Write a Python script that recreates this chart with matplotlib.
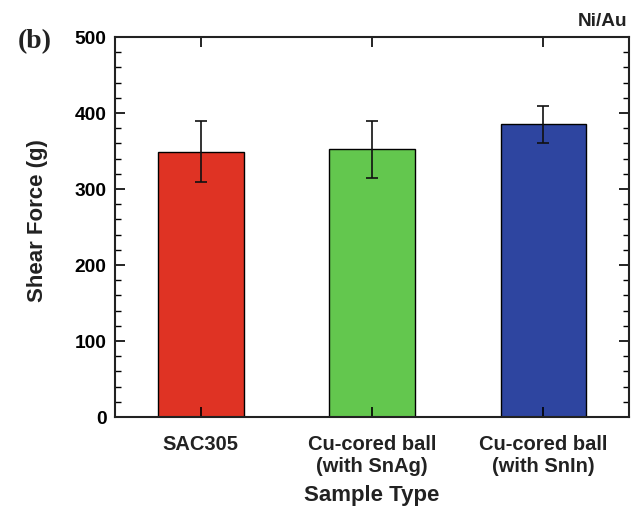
#! /usr/bin/env python3
"""Shear force per sample type, Ni/Au finish"""

import numpy as np
from matplotlib import pyplot as plt
from matplotlib.ticker import MultipleLocator

samples = ['SAC305', 'Cu-cored ball\n(with SnAg)', 'Cu-cored ball\n(with SnIn)']
force = [349, 352, 385]
force_err = [40, 38, 24]
colors = ['#df3324', '#63c74e', '#2e45a0']

plt.rcParams['font.family'] = ['Liberation Sans', 'DejaVu Sans']
plt.rcParams['font.weight'] = 'bold'

fig = plt.figure(figsize=(6.38, 5.10), dpi=100)
ax = fig.add_axes([0.1803, 0.1804, 0.8056, 0.7451])

x = np.arange(len(samples))
ax.bar(x, force, width=0.5, color=colors, edgecolor='black', linewidth=1.0,
       yerr=force_err, capsize=4,
       error_kw={'elinewidth': 1.2, 'capthick': 1.2, 'ecolor': '#111111'})

ax.set_xlim(-0.5, 2.5)
ax.set_ylim(0, 500)
ax.yaxis.set_major_locator(MultipleLocator(100))
ax.yaxis.set_minor_locator(MultipleLocator(20))
ax.set_xticks(x)
ax.set_xticklabels(samples, fontsize=14.5, fontweight='bold', color='#222222',
                   linespacing=1.2)
ax.tick_params(axis='both', which='both', direction='in', top=True, right=True)
ax.tick_params(axis='both', which='major', length=7, width=1.2)
ax.tick_params(axis='y', which='minor', length=4, width=1.0)
ax.tick_params(axis='y', labelsize=13.8, pad=6)
ax.tick_params(axis='x', pad=12)
for spine in ax.spines.values():
    spine.set_linewidth(1.5)
    spine.set_color('#222222')

ax.set_ylabel('Shear Force (g)', fontsize=16, fontweight='bold', color='#222222')
ax.set_xlabel('Sample Type', fontsize=16, fontweight='bold', color='#222222')
ax.yaxis.set_label_coords(-0.150, 0.52)
ax.yaxis.label.set_va('center')
ax.xaxis.set_label_coords(0.5, -0.205)
ax.xaxis.label.set_va('center')

fig.text(0.984, 0.957, 'Ni/Au', ha='right', va='center', fontsize=13.7,
         fontweight='bold', color='#222222')
fig.text(0.028, 0.918, '(b)', ha='left', va='center', fontsize=20,
         fontweight='bold', family=['Liberation Serif', 'DejaVu Serif'],
         color='#222222')

fig.savefig('out.png', dpi=100)
